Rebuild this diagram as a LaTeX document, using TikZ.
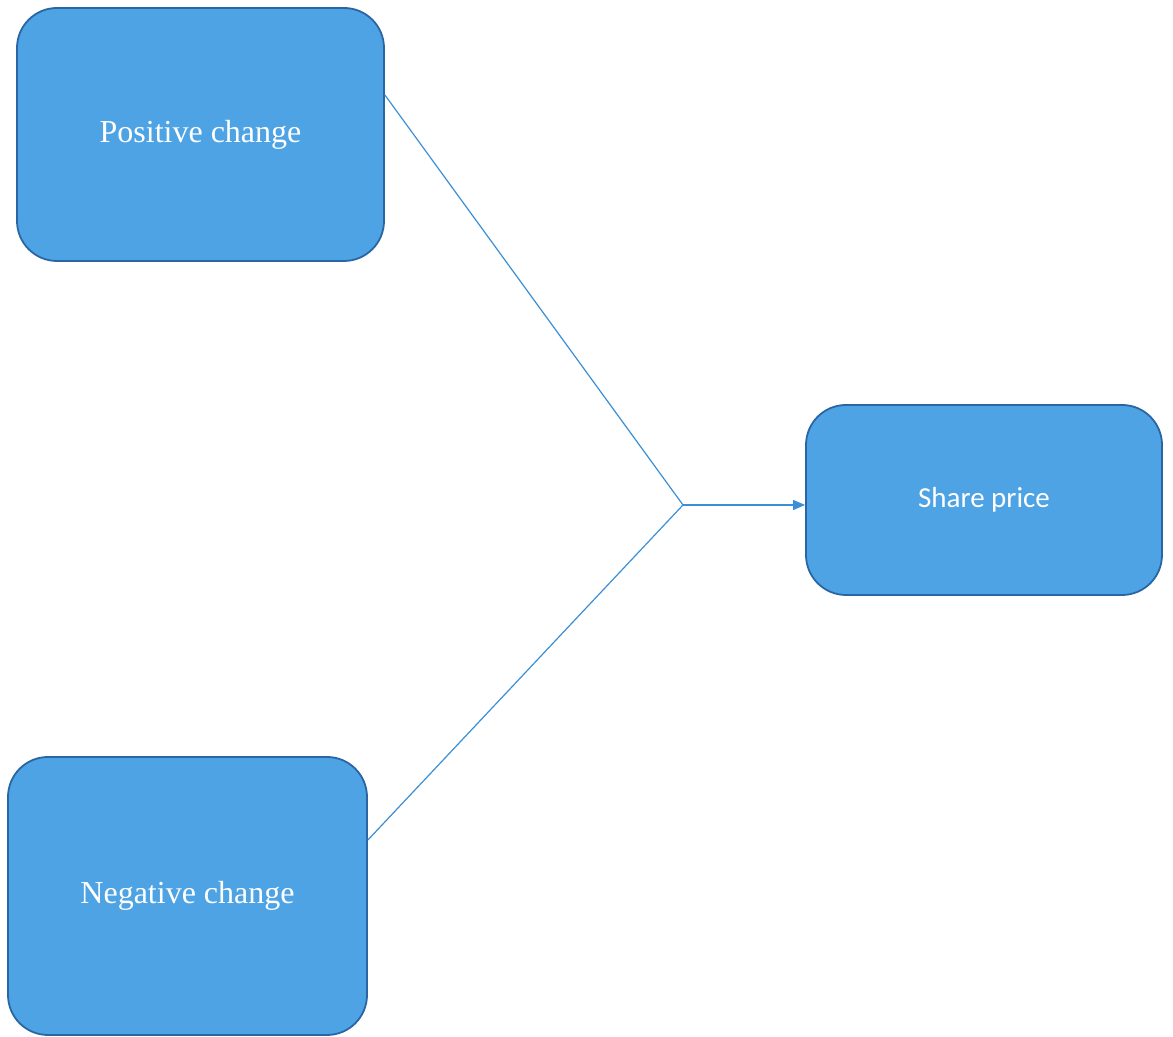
\documentclass[tikz,border=0pt]{standalone}
\usepackage{fontspec}
\setmainfont{Liberation Serif}
\newfontfamily\calfont{Carlito}
\usetikzlibrary{arrows.meta}
\definecolor{boxfill}{HTML}{4DA3E4}
\definecolor{boxline}{HTML}{2A66A3}
\definecolor{linkblue}{HTML}{3A8FD6}
\tikzset{
  changebox/.style={draw=boxline, fill=boxfill, line width=0.9pt, rounded corners=20pt,
    text=white, font=\fontsize{16}{19}\selectfont},
  link/.style={draw=linkblue, line width=0.6pt}
}
\begin{document}
\begin{tikzpicture}[x=0.5pt,y=0.5pt]
\useasboundingbox (0,0) rectangle (1173,1037);
\node[changebox, minimum width=183.5pt, minimum height=126.5pt] (pos) at (200.5,902.5) {Positive change};
\node[changebox, minimum width=179.5pt, minimum height=139pt] (neg) at (187.5,141) {Negative change};
\node[changebox, minimum width=178pt, minimum height=95pt, font=\calfont\fontsize{14.5}{17}\selectfont] (share) at (984,537) {Share price};
\coordinate (meet) at (683,532);
\draw[link] ([yshift=19.75pt]pos.east) -- (meet);
\draw[link] ([yshift=28pt]neg.east) -- (meet);
\draw[link, -{Triangle[length=6pt,width=5pt]}] (meet) -- (meet -| share.west);
\end{tikzpicture}
\end{document}
